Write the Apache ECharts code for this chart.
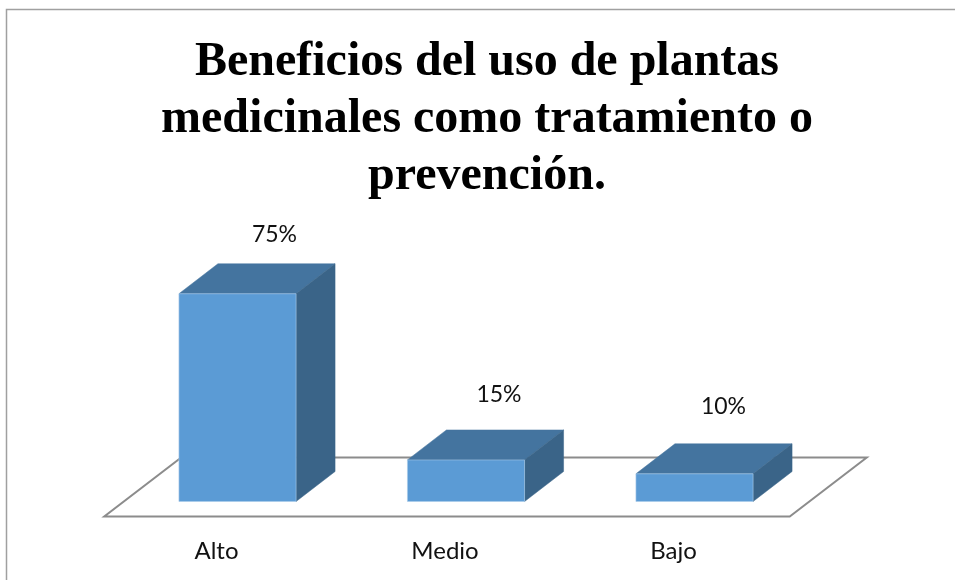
<!DOCTYPE html>
<html><head><meta charset="utf-8">
<style>html,body{margin:0;padding:0;background:#fff}#c{width:955px;height:580px}</style>
<script src="https://cdn.jsdelivr.net/npm/echarts@6/dist/echarts.min.js"></script>
</head><body><div id="c"></div>
<script>
const categories = ['Alto', 'Medio', 'Bajo'];
const values = [75, 15, 10];
const titleText = 'Beneficios del uso de plantas\nmedicinales como tratamiento o\nprevención.';
// label placement above the back top edge of each column, px
const labelLift = [29, 35, 37];
const labelShift = [37, 33, 29];

const chart = echarts.init(document.getElementById('c'), null, {renderer: 'canvas'});
const depthX = 39, depthY = 30;
const FRONT = '#5b9bd5', TOP = '#44749f', SIDE = '#3a6488', FLOOR = '#8c8c8c';

function poly(points, fill) {
  return {type: 'polygon', shape: {points}, style: {fill, stroke: fill, lineWidth: 0.5}};
}
function renderBar(params, api) {
  const i = params.dataIndex;
  const top = api.coord([api.value(0), api.value(1)]);
  const base = api.coord([api.value(0), 0]);
  const w = api.size([1, 0])[0] * 0.5126;
  const l = top[0] - w / 2, r = top[0] + w / 2;
  const t = top[1], b = base[1];
  return {type: 'group', children: [
    poly([[l, t], [r, t], [r + depthX, t - depthY], [l + depthX, t - depthY]], TOP),
    poly([[r, t], [r + depthX, t - depthY], [r + depthX, b - depthY], [r, b]], SIDE),
    {type: 'rect', shape: {x: l, y: t, width: r - l, height: b - t},
      style: {fill: FRONT, stroke: '#a9cbe9', lineWidth: 0.6}},
    {type: 'text', x: top[0] + labelShift[i], y: t - depthY - labelLift[i],
      style: {text: api.value(1) + '%', font: '23px Lato, "Open Sans", sans-serif', fill: '#111',
        align: 'center', verticalAlign: 'middle'}}
  ]};
}
function renderFloor(params, api) {
  const a = api.coord([0, 0]), z = api.coord([categories.length - 1, 0]);
  const half = api.size([1, 0])[0] / 2;
  const y0 = a[1] + 15, y1 = y0 - 59;
  const x0 = a[0] - half - 19, x1 = z[0] + half - 19;
  return {type: 'polygon', silent: true,
    shape: {points: [[x0, y0], [x1, y0], [x1 + 77, y1], [x0 + 77, y1]]},
    style: {fill: '#fff', stroke: FLOOR, lineWidth: 2}};
}

chart.setOption({
  animation: false,
  backgroundColor: '#ffffff',
  title: {
    text: titleText, left: 482, top: 29, textAlign: 'center',
    textStyle: {fontFamily: '"Liberation Serif", serif', fontWeight: 'bold', fontSize: 48, lineHeight: 57, color: '#000'}
  },
  grid: {left: 123.25, width: 685.5, top: 224.5, height: 277},
  xAxis: {
    type: 'category', data: categories,
    axisLine: {show: false}, axisTick: {show: false},
    axisLabel: {margin: 38, padding: [0, 42, 0, 0], fontFamily: 'Lato, "Open Sans", sans-serif', fontSize: 24, color: '#111'}
  },
  yAxis: {type: 'value', min: 0, max: 100, show: false},
  series: [
    {type: 'custom', name: 'floor', renderItem: renderFloor, data: [[0, 0]], z: 1, encode: {x: 0, y: 1}, silent: true},
    {type: 'custom', name: 'Beneficios', renderItem: renderBar, z: 2, encode: {x: 0, y: 1},
      data: values.map((v, i) => [i, v])}
  ],
  graphic: [{type: 'rect', z: 0, silent: true, shape: {x: 6.5, y: 9.5, width: 960, height: 600},
    style: {fill: 'none', stroke: '#a0a0a0', lineWidth: 1.5}}]
});
</script></body></html>
